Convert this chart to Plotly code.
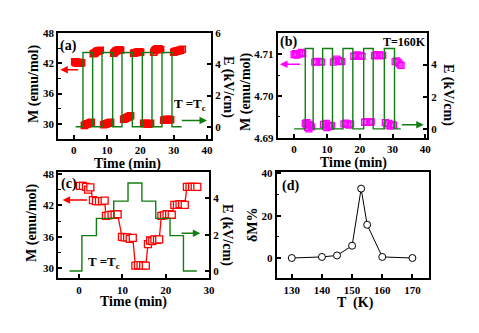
import plotly.graph_objects as go

W, H = 479, 333
RED = "#ff0000"
MAG = "#ff00ff"
GRN = "#127d12"
FONT = "Liberation Serif"

# ---------------- panel (a) data ----------------
a_t = [0.3,0.6,0.9,1.2,1.5,1.8,2.1,2.4,
       3.2,3.5,3.8,4.1,4.4,4.7,5.0,5.3,
       5.9,6.2,6.5,6.8,7.1,7.4,7.7,8.0,
       9.0,9.3,9.6,9.9,10.2,10.5,10.8,11.1,
       12.0,12.3,12.6,12.9,13.2,13.5,13.8,14.1,
       15.0,15.3,15.6,15.9,16.2,16.5,16.8,17.1,
       18.0,18.3,18.6,18.9,19.2,19.5,19.8,20.1,
       21.0,21.3,21.6,21.9,22.2,22.5,22.8,23.1,
       24.0,24.3,24.6,24.9,25.2,25.5,25.8,26.1,
       27.0,27.3,27.6,27.9,28.2,28.5,28.8,29.1,
       30.0,30.3,30.6,30.9,31.2,31.5,31.8,32.1,32.6]
a_M = [42.3,42.1,42.2,42.0,42.2,42.1,42.0,42.1,
       29.7,29.8,29.9,30.0,30.0,30.1,30.2,30.3,
       43.9,44.0,44.1,44.3,44.4,44.5,44.5,44.6,
       29.8,29.9,29.9,30.0,30.1,30.1,30.2,30.3,
       44.0,44.2,44.4,44.5,44.6,44.6,44.7,44.6,
       30.9,31.0,31.1,31.2,31.3,31.4,31.5,31.6,
       44.0,44.1,44.1,44.2,44.2,44.3,44.3,44.2,
       30.1,30.0,30.1,30.0,30.0,29.9,30.0,30.1,
       44.2,44.5,44.7,44.8,44.9,44.9,44.8,44.7,
       30.7,30.8,30.8,30.9,30.8,30.8,30.9,30.8,
       44.2,44.3,44.4,44.4,44.5,44.5,44.6,44.6,44.8]
a_Et = [0.6, 2.8, 5.7, 8.5, 11.7, 14.5, 17.6, 20.6, 23.5, 26.5, 29.5, 32.4]
a_E = [0, 4.75, 0, 4.75, 0, 4.75, 0, 4.75, 0, 4.75, 0, 0]

# ---------------- panel (b) data ----------------
b_t = [0.0,0.4,0.8,1.2,1.7,2.2,2.6,
       3.4,3.8,4.1,4.5,4.9,5.3,3.9,4.6,
       6.3,6.8,7.3,7.8,8.3,
       9.0,9.5,10.0,10.5,11.0,11.4,9.8,
       12.0,12.5,13.0,13.5,14.0,14.5,
       15.2,15.7,16.2,16.7,17.2,
       18.2,18.7,19.2,19.7,20.2,20.7,
       21.5,22.0,22.5,23.0,23.5,
       24.5,25.0,25.5,26.0,26.5,27.0,
       27.8,28.3,28.8,29.3,29.8,30.3,
       30.8,31.3,31.7,32.2,32.6]
b_M = [4.7099,4.7101,4.7098,4.7100,4.7102,4.7104,4.7101,
       4.6934,4.6931,4.6925,4.6921,4.6929,4.6926,4.6936,4.6932,
       4.7081,4.7082,4.7083,4.7082,4.7081,
       4.6932,4.6928,4.6924,4.6930,4.6927,4.6929,4.6934,
       4.7081,4.7084,4.7088,4.7085,4.7083,4.7082,
       4.6933,4.6935,4.6932,4.6930,4.6933,
       4.7095,4.7096,4.7098,4.7097,4.7096,4.7095,
       4.6937,4.6938,4.6938,4.6937,4.6938,
       4.7096,4.7097,4.7099,4.7098,4.7096,4.7097,
       4.6936,4.6930,4.6934,4.6928,4.6932,4.6930,
       4.7082,4.7084,4.7080,4.7076,4.7073]
b_Et = [0.0, 3.4, 5.8, 8.7, 11.7, 14.9, 17.9, 21.2, 24.1, 27.5, 30.6, 32.5]
b_E = [0, 5.0, 0, 5.0, 0, 5.0, 0, 5.0, 0, 5.0, 0, 0]

# ---------------- panel (c) data ----------------
c_t = [0.2,0.9,1.6,2.1,2.6,
       3.2,3.9,4.6,5.3,5.9,
       6.2,6.8,7.5,8.2,8.9,
       9.9,10.5,11.1,11.7,12.4,
       13.0,13.6,14.2,14.8,15.4,
       15.9,16.4,16.9,17.4,18.0,18.5,
       19.0,19.6,20.2,20.8,21.4,
       22.0,22.6,23.2,23.8,24.4,
       24.9,25.5,26.1,26.7,27.3]
c_M = [45.7,45.7,45.5,45.0,45.4,
       43.0,42.8,42.8,42.8,42.9,
       40.0,40.1,40.2,40.2,40.3,
       36.0,35.9,35.9,35.6,35.8,
       30.5,30.6,30.6,30.5,30.5,
       34.6,35.3,35.2,35.5,35.4,35.5,
       40.0,40.1,40.3,40.3,40.2,
       42.1,42.1,42.2,42.2,42.1,
       45.5,45.5,45.5,45.5,45.5]
c_Et = [-2.2, 0.65, 4.0, 8.0, 11.3, 14.5, 17.7, 21.0, 24.1, 27.2]
c_E = [0, 1.95, 2.9, 3.85, 4.85, 3.85, 2.9, 1.95, 0, 0]

# ---------------- panel (d) data ----------------
d_T = [130, 140, 145, 150, 153, 155, 160, 170]
d_dM = [0, 0.5, 1.2, 5.8, 32.8, 15.7, 0.5, 0]


def px(x):
    return x / W


def py(y):
    return 1 - y / H


fig = go.Figure()
msz = 6
fig.add_trace(go.Scatter(x=a_Et, y=a_E, mode="lines", line=dict(color=GRN, width=1.4, shape="hv"),
                         xaxis="x", yaxis="y2"))
fig.add_trace(go.Scatter(x=a_t, y=a_M, mode="markers",
                         marker=dict(symbol="square-open", size=msz, color=RED, line=dict(width=1.5, color=RED)),
                         xaxis="x", yaxis="y"))
fig.add_trace(go.Scatter(x=b_Et, y=b_E, mode="lines", line=dict(color=GRN, width=1.4, shape="hv"),
                         xaxis="x2", yaxis="y4"))
fig.add_trace(go.Scatter(x=b_t, y=b_M, mode="markers",
                         marker=dict(symbol="square-open", size=msz, color=MAG, line=dict(width=1.3, color=MAG)),
                         xaxis="x2", yaxis="y3"))
fig.add_trace(go.Scatter(x=c_Et, y=c_E, mode="lines", line=dict(color=GRN, width=1.4, shape="hv"),
                         xaxis="x3", yaxis="y6"))
fig.add_trace(go.Scatter(x=c_t, y=c_M, mode="lines+markers", line=dict(color=RED, width=1.3),
                         marker=dict(symbol="square", size=msz + 1, color="white", line=dict(width=1.3, color=RED)),
                         xaxis="x3", yaxis="y5"))
fig.add_trace(go.Scatter(x=d_T, y=d_dM, mode="lines+markers", line=dict(color="black", width=1),
                         marker=dict(symbol="circle", size=7, color="white", line=dict(width=1, color="black")),
                         xaxis="x4", yaxis="y7"))

tickfont = dict(family=FONT, size=11, color="black", weight="bold")


def xax(domain, anchor, rng, dtick, tick0=0):
    return dict(domain=domain, anchor=anchor, range=rng, dtick=dtick, tick0=tick0,
                showline=True, mirror=True, linewidth=2, linecolor="black",
                ticks="inside", ticklen=4, tickwidth=1.5, tickcolor="black",
                showgrid=False, zeroline=False, tickfont=tickfont, automargin=False)


def yax(domain, anchor, rng, dtick, tick0=0, minor=None, side="left", overlaying=None, mirror=False, fmt=None):
    d = dict(anchor=anchor, range=rng, dtick=dtick, tick0=tick0, side=side,
             showline=True, mirror=mirror, linewidth=2, linecolor="black",
             ticks="inside", ticklen=4, tickwidth=1.5, tickcolor="black",
             showgrid=False, zeroline=False, tickfont=tickfont, automargin=False)
    if domain is not None:
        d["domain"] = domain
    if overlaying:
        d["overlaying"] = overlaying
    if minor:
        d["minor"] = dict(dtick=minor, ticks="inside", ticklen=2.5, tickwidth=1.2, tickcolor="black", showgrid=False)
    if fmt:
        d["tickformat"] = fmt
    return d


dom_a_x = [px(58.3), px(211)]
dom_a_y = [py(138.5), py(33)]
dom_b_x = [px(277.7), px(427)]
dom_b_y = [py(137.7), py(33.3)]
dom_c_x = [px(58.3), px(209)]
dom_c_y = [py(278.3), py(171.7)]
dom_d_x = [px(276.7), px(429)]
dom_d_y = [py(278.3), py(171.7)]

fig.update_layout(
    width=W, height=H, template="none",
    margin=dict(l=0, r=0, t=0, b=0),
    paper_bgcolor="white", plot_bgcolor="white",
    showlegend=False,
    xaxis=xax(dom_a_x, "y", [-4.6, 41.2], 10),
    yaxis=yax(dom_a_y, "x", [27.1, 48], 6, 30, minor=3),
    yaxis2=yax(None, "x", [-0.75, 6], 2, 0, side="right", overlaying="y"),
    xaxis2=xax(dom_b_x, "y3", [-5, 40.5], 10),
    yaxis3=yax(dom_b_y, "x2", [4.69, 4.715], 0.01, 4.69, minor=0.005, fmt=".2f"),
    yaxis4=yax(None, "x2", [-0.55, 5.95], 2, 0, side="right", overlaying="y3"),
    xaxis3=xax(dom_c_x, "y5", [-4.8, 30], 10),
    yaxis5=yax(dom_c_y, "x3", [28.1, 48.4], 6, 30, minor=3),
    yaxis6=yax(None, "x3", [-0.4, 5.47], 2, 0, side="right", overlaying="y5"),
    xaxis4=xax(dom_d_x, "y7", [125, 175.5], 10, 130),
    yaxis7=yax(dom_d_y, "x4", [-9.6, 40.8], 20, 0, minor=10, mirror=True),
)

tf = dict(family=FONT, size=14, color="black", weight="bold")
xf = dict(family=FONT, size=14, color="black", weight="bold")
ann = []


def text(x, y, s, font, angle=0):
    ann.append(dict(x=px(x), y=py(y), xref="paper", yref="paper", text=s, showarrow=False,
                    font=font, textangle=angle, xanchor="center", yanchor="middle"))


text(34, 84, "M (emu/mol)", tf, -90)
text(228, 87, "E (kV/cm)", tf, 90)
text(127, 163.5, "Time (min)", xf)
text(246, 92, "M (emu/mol)", tf, -90)
text(448, 95, "E (kV/cm)", tf, 90)
text(353, 163, "Time (min)", xf)
text(32, 223, "M (emu/mol)", tf, -90)
text(227, 235, "E (kV/cm)", tf, 90)
text(133, 302, "Time (min)", xf)
text(252, 225, "δM%", tf, -90)
text(355, 303, "T  (K)", xf)

lab = dict(family=FONT, size=14, color="black", weight="bold")
text(68, 46, "(a)", lab)
text(288, 42.5, "(b)", lab)
text(68.5, 184, "(c)", lab)
text(290, 186, "(d)", lab)
text(404, 42.5, "T=160K", dict(family=FONT, size=12, color="black", weight="bold"))
text(190, 104, "T =T<sub>c</sub>", dict(family=FONT, size=13, color="black", weight="bold"))
text(104, 262, "T =T<sub>c</sub>", dict(family=FONT, size=13, color="black", weight="bold"))


def arrow(xr, yr, x, y, ax, ay, color):
    ann.append(dict(x=x, y=y, ax=ax, ay=ay, xref=xr, yref=yr, axref=xr, ayref=yr,
                    showarrow=True, arrowhead=2, arrowsize=1, arrowwidth=1.5, arrowcolor=color, text=""))


arrow("x", "y", -4.0, 40.7, 1.8, 40.7, RED)
arrow("x", "y2", 40.0, 0.4, 32.0, 0.4, GRN)
arrow("x2", "y3", -4.3, 4.7076, 2.3, 4.7076, MAG)
arrow("x2", "y4", 39.5, 0.25, 32.4, 0.25, GRN)
arrow("x3", "y5", -3.8, 43.0, 2.2, 43.0, RED)
arrow("x3", "y6", 28.0, 2.08, 23.3, 2.08, GRN)

fig.update_layout(annotations=ann)
fig.write_html("out.html")
